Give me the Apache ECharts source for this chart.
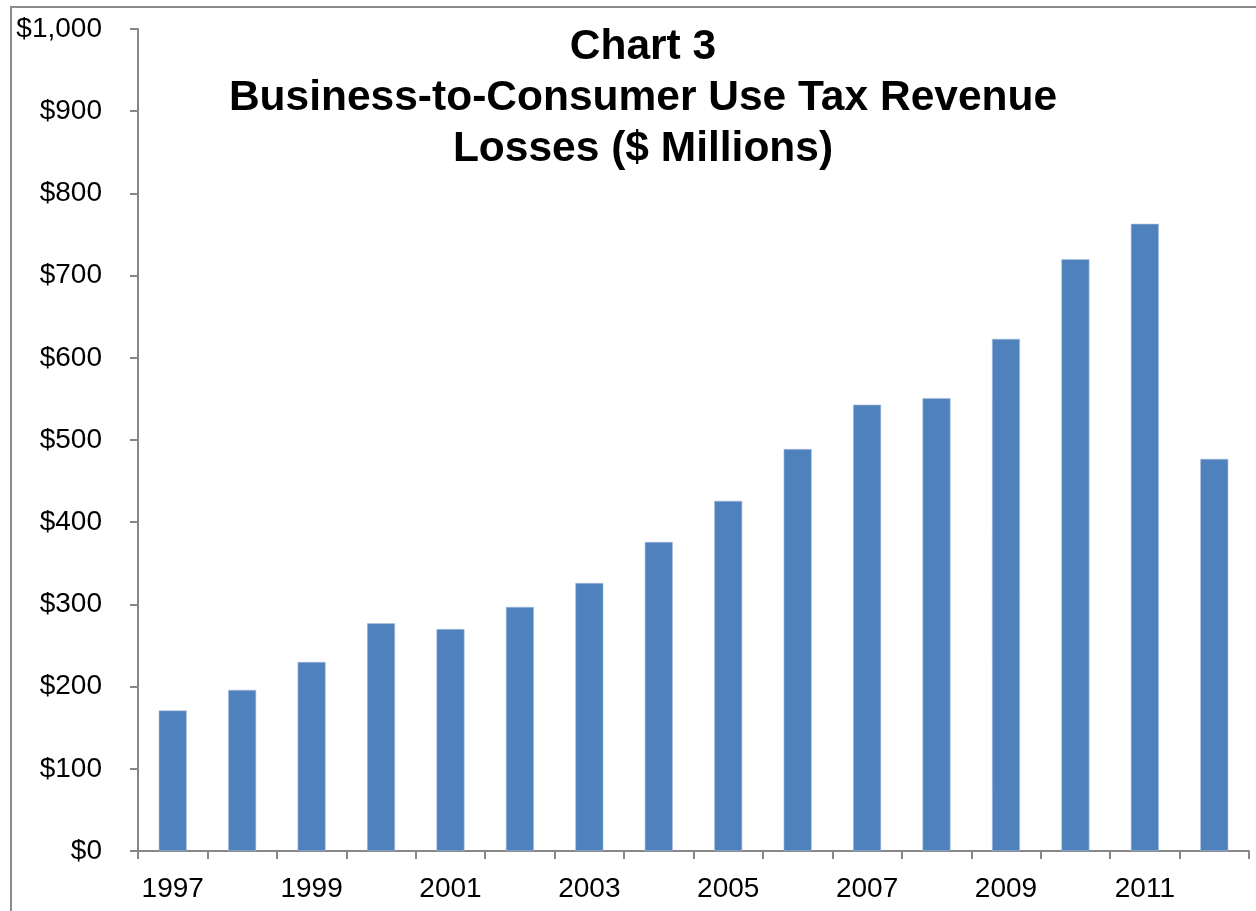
<!DOCTYPE html>
<html>
<head>
<meta charset="utf-8">
<script src="https://cdn.jsdelivr.net/npm/echarts@6/dist/echarts.min.js"></script>
<style>
html,body{margin:0;padding:0;background:#fff;}
#main{width:1256px;height:911px;}
</style>
</head>
<body>
<div id="main"></div>
<script>
var titleLines = ['Chart 3', 'Business-to-Consumer Use Tax Revenue', 'Losses ($ Millions)'];
var years = ['1997','1998','1999','2000','2001','2002','2003','2004','2005','2006','2007','2008','2009','2010','2011','2012'];
var losses = [171, 196, 230, 277, 270, 297, 326, 376, 426, 489, 543, 551, 623, 720, 763, 477];
var yTicks = { min: 0, max: 1000, interval: 100 };

var chart = echarts.init(document.getElementById('main'));
var axisColor = '#878787';
chart.setOption({
  animation: false,
  backgroundColor: '#ffffff',
  textStyle: { fontFamily: 'Liberation Sans, Arial, sans-serif' },
  graphic: [{
    type: 'rect',
    shape: { x: 11, y: 7, width: 1300, height: 1000 },
    style: { fill: 'none', stroke: '#8c8c8c', lineWidth: 2 },
    z: -1
  }],
  title: {
    text: titleLines.join('\n'),
    left: 643,
    top: 22,
    textAlign: 'center',
    padding: 0,
    textStyle: {
      fontFamily: 'Liberation Sans, Arial, sans-serif',
      fontSize: 42.5,
      fontWeight: 'bold',
      color: '#000',
      lineHeight: 51
    }
  },
  grid: { left: 138, right: 7, top: 29, bottom: 60, containLabel: false },
  xAxis: {
    type: 'category',
    data: years,
    boundaryGap: true,
    axisLine: { lineStyle: { color: axisColor, width: 2 } },
    axisTick: { show: true, interval: 0, length: 8, lineStyle: { color: axisColor, width: 2 } },
    axisLabel: { interval: 1, margin: 24, fontSize: 28, color: '#000', fontFamily: 'Liberation Sans, Arial, sans-serif' },
    splitLine: { show: false }
  },
  yAxis: {
    type: 'value',
    min: yTicks.min,
    max: yTicks.max,
    interval: yTicks.interval,
    axisLine: { show: true, lineStyle: { color: axisColor, width: 2 } },
    axisTick: { show: true, length: 8, lineStyle: { color: axisColor, width: 2 } },
    axisLabel: {
      margin: 36, fontSize: 28, color: '#000', fontFamily: 'Liberation Sans, Arial, sans-serif',
      formatter: function (v) { return '$' + v.toLocaleString('en-US'); }
    },
    splitLine: { show: false }
  },
  series: [{
    type: 'bar',
    data: losses,
    barWidth: 28,
    itemStyle: { color: '#4F81BD', borderColor: '#a9c0de', borderWidth: 0.6 }
  }]
});
</script>
</body>
</html>
